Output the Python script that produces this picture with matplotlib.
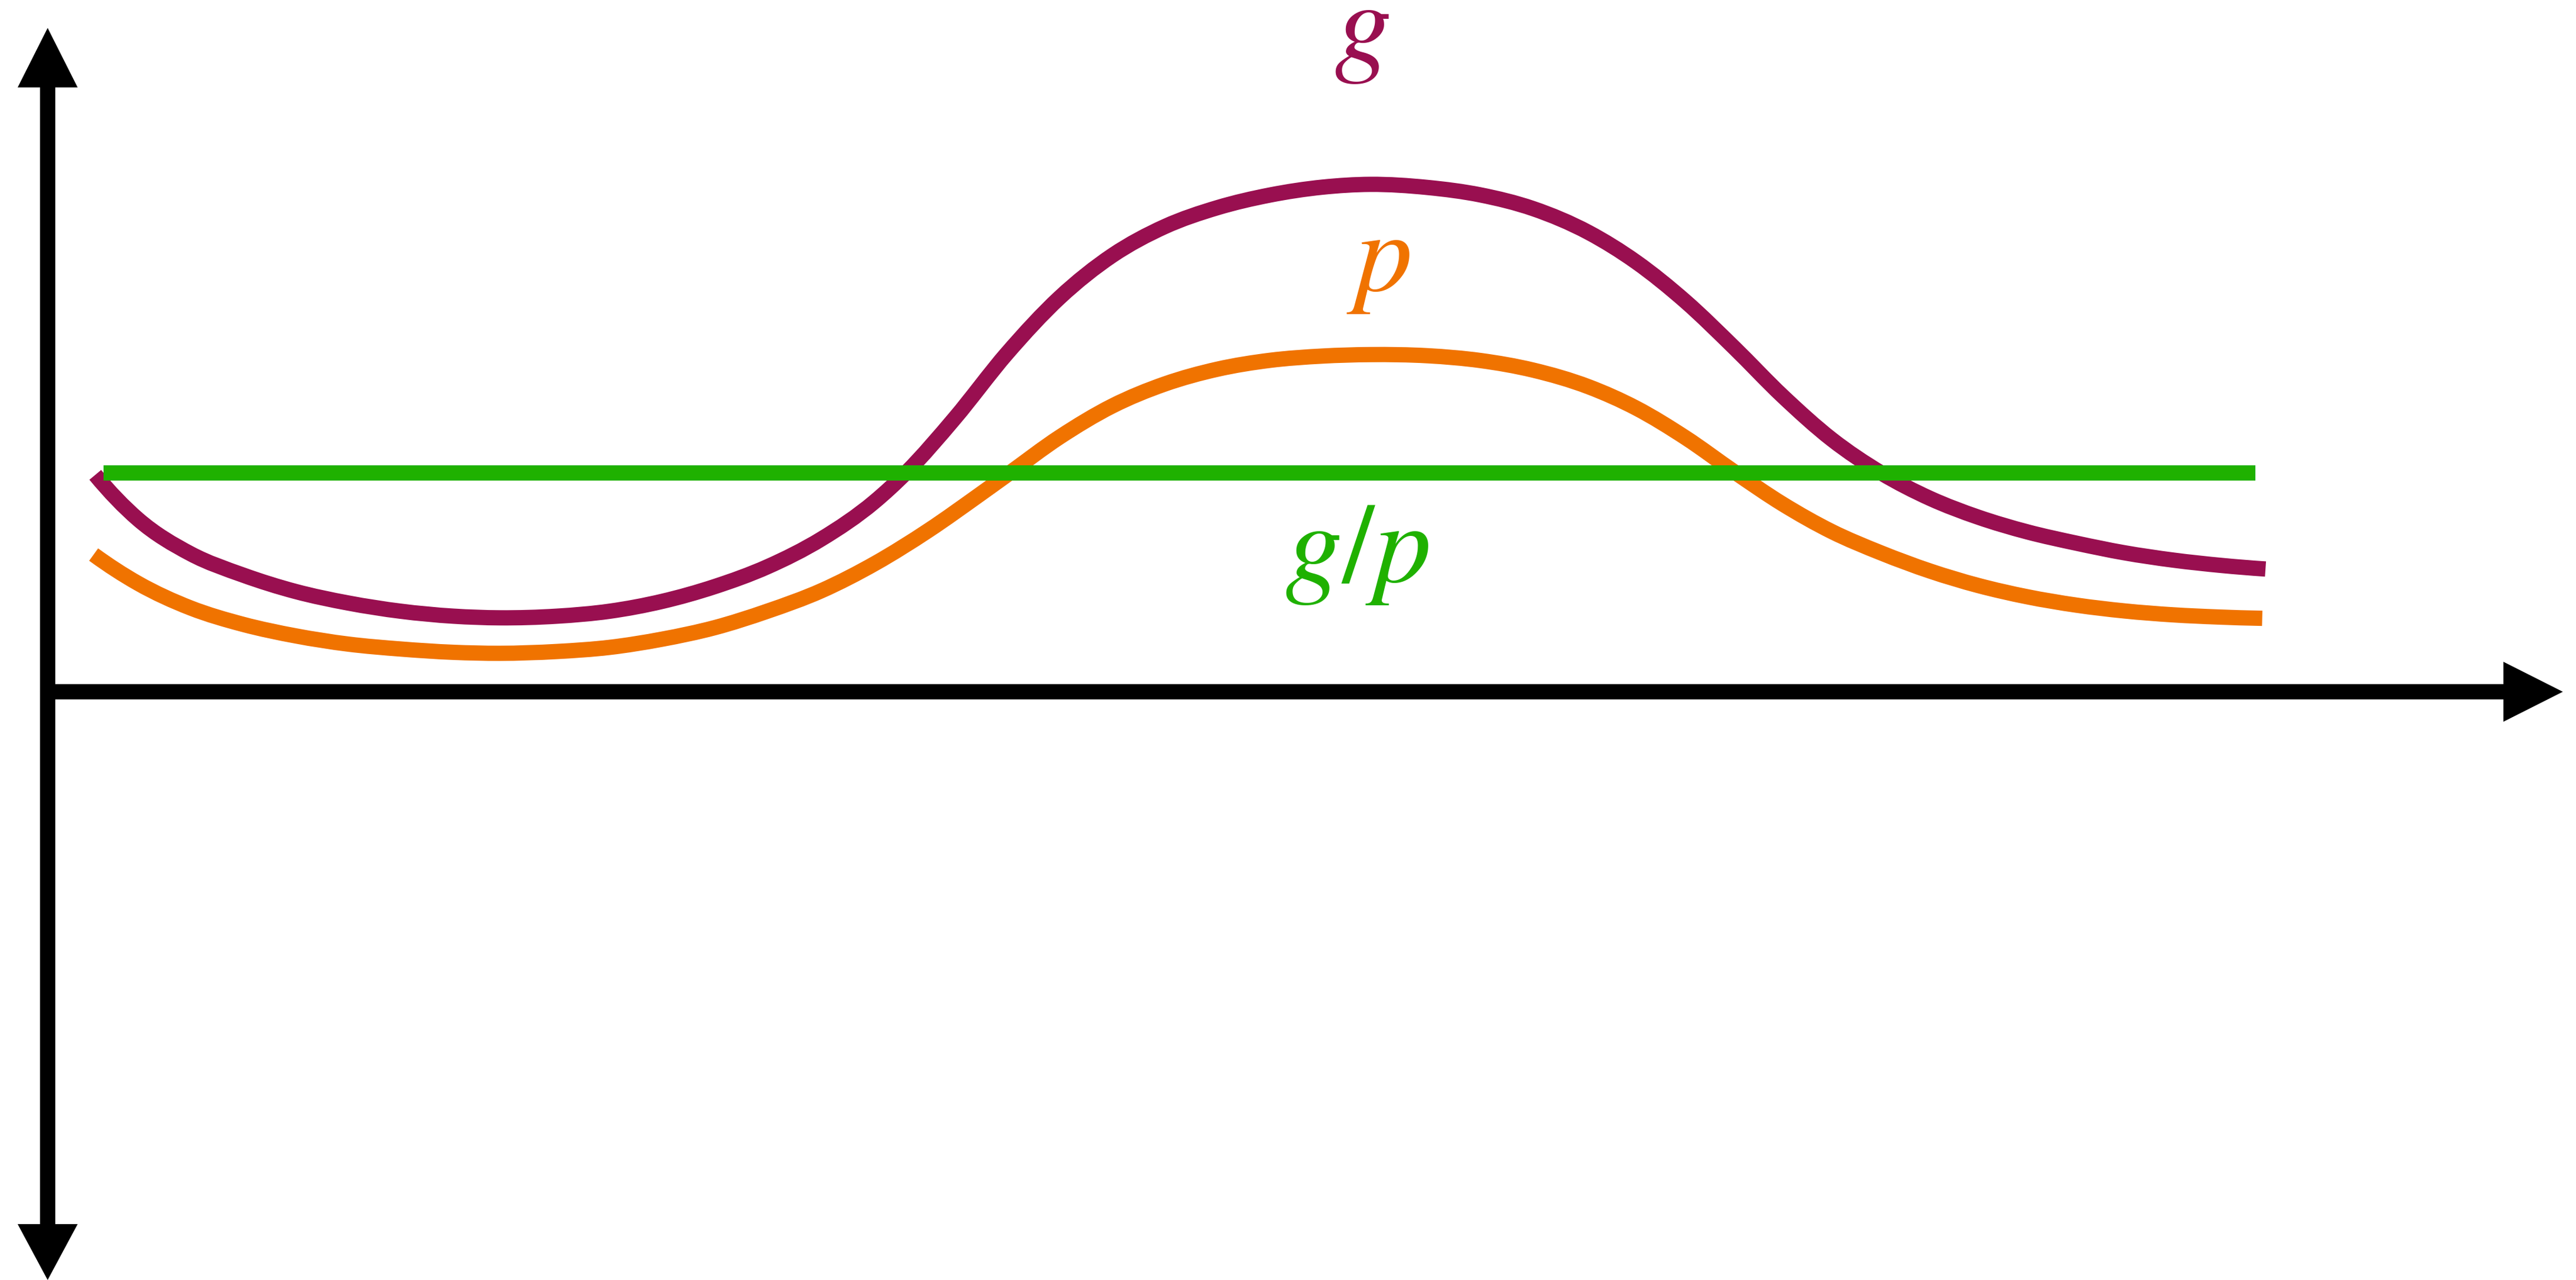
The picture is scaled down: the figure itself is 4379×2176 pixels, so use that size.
'''Sketch of g, p and the ratio g/p along one axis'''

import matplotlib
matplotlib.use('Agg')
import matplotlib.pyplot as plt
from matplotlib.path import Path
from matplotlib.patches import PathPatch

plt.rcParams['mathtext.fontset'] = 'stix'

# curve readings (axis crossing at 0, 0)
g_x = [29, 55, 87, 119, 151, 183, 215, 247, 275, 310,
       342, 374, 406, 438, 471, 503, 523, 552, 584, 616,
       648, 680, 712, 744, 776, 805, 840, 872, 904, 938,
       967, 997, 1027, 1056, 1086, 1116, 1146, 1175, 1205, 1235,
       1264, 1294, 1324, 1350]
g_y = [132, 105, 84, 71, 61, 54, 49, 46, 45, 46,
       49, 55, 64, 76, 93, 115.4, 133.8, 166.3, 206, 239.9,
       265.5, 283.1, 294.6, 302.3, 307.1, 308.8, 306.9, 302.4, 294.1, 279.5,
       261.5, 237.5, 209, 180, 153.6, 133.2, 117.6, 106.3, 97.3, 90.4,
       84.6, 80.1, 76.8, 74.7]

p_x = [28, 55, 87, 119, 151, 183, 215, 247, 275, 310,
       342, 374, 406, 438, 471, 504, 536, 568, 584, 616,
       648, 680, 712, 744, 776, 805, 840, 872, 904, 938,
       967, 997, 1027, 1056, 1086, 1116, 1146, 1175, 1205, 1235,
       1264, 1294, 1321, 1348]
p_y = [83.5, 66, 51, 41, 34, 29, 26, 24, 23.4, 24.5,
       27, 32, 39, 49, 61.5, 78.3, 98.1, 120.5, 132, 155,
       173.9, 187.3, 196.3, 201.7, 204.3, 205.2, 204.5, 201.6, 195.8, 185.6,
       172.6, 154.6, 133.6, 114.3, 97.5, 84.5, 73.4, 64.7, 57.8, 52.7,
       49.2, 46.8, 45.5, 44.7]

ratio_x = [34, 1344]
ratio_y = [133, 133]

labels = [r'$g$', r'$p$', r'$g/p$']
label_pos = [(800, 384), (810, 244), (797, 67)]

PURPLE = '#990f50'
ORANGE = '#f07300'
GREEN = '#1fb100'


def smooth_path(xs, ys):
    '''Cubic Hermite path through the read points, slopes from neighbours'''
    n = len(xs)
    h = [xs[i + 1] - xs[i] for i in range(n - 1)]
    d = [(ys[i + 1] - ys[i]) / h[i] for i in range(n - 1)]
    m = [0.0] * n
    for i in range(1, n - 1):
        m[i] = (d[i - 1] * h[i] + d[i] * h[i - 1]) / (h[i - 1] + h[i])
    m[0] = 2 * d[0] - m[1]
    m[-1] = 2 * d[-1] - m[-2]
    verts = [(xs[0], ys[0])]
    codes = [Path.MOVETO]
    for i in range(n - 1):
        k = h[i] / 3
        verts += [(xs[i] + k, ys[i] + m[i] * k),
                  (xs[i + 1] - k, ys[i + 1] - m[i + 1] * k),
                  (xs[i + 1], ys[i + 1])]
        codes += [Path.CURVE4] * 3
    return Path(verts, codes)


fig = plt.figure(figsize=(43.79, 21.76), dpi=100)
ax = fig.add_axes([0, 0, 1, 1])
ax.set_xlim(-29, 1539)
ax.set_ylim(-358, 421)
ax.axis('off')

# axes with arrow heads
shaft = 26 / 2.793
ax.arrow(0, 0, 0, 404, width=shaft, head_width=36.5, head_length=36.2,
         length_includes_head=True, color='black', lw=0)
ax.arrow(0, 0, 0, -358, width=shaft, head_width=36.5, head_length=34,
         length_includes_head=True, color='black', lw=0)
ax.arrow(-shaft / 2, 0, 1531 + shaft / 2, 0, width=shaft, head_width=36.5,
         head_length=36.2, length_includes_head=True, color='black', lw=0)

lw = 26 * 0.72
for xs, ys, c in [(g_x, g_y, PURPLE), (p_x, p_y, ORANGE)]:
    ax.add_patch(PathPatch(smooth_path(xs, ys), facecolor='none', edgecolor=c,
                           lw=lw, capstyle='butt', joinstyle='round'))
ax.plot(ratio_x, ratio_y, color=GREEN, lw=lw, solid_capstyle='butt')

for txt, (x, y), c in zip(labels, label_pos, [PURPLE, ORANGE, GREEN]):
    ax.text(x, y, txt, color=c, fontsize=140, ha='center', va='baseline')

fig.savefig('out.png', dpi=100)
